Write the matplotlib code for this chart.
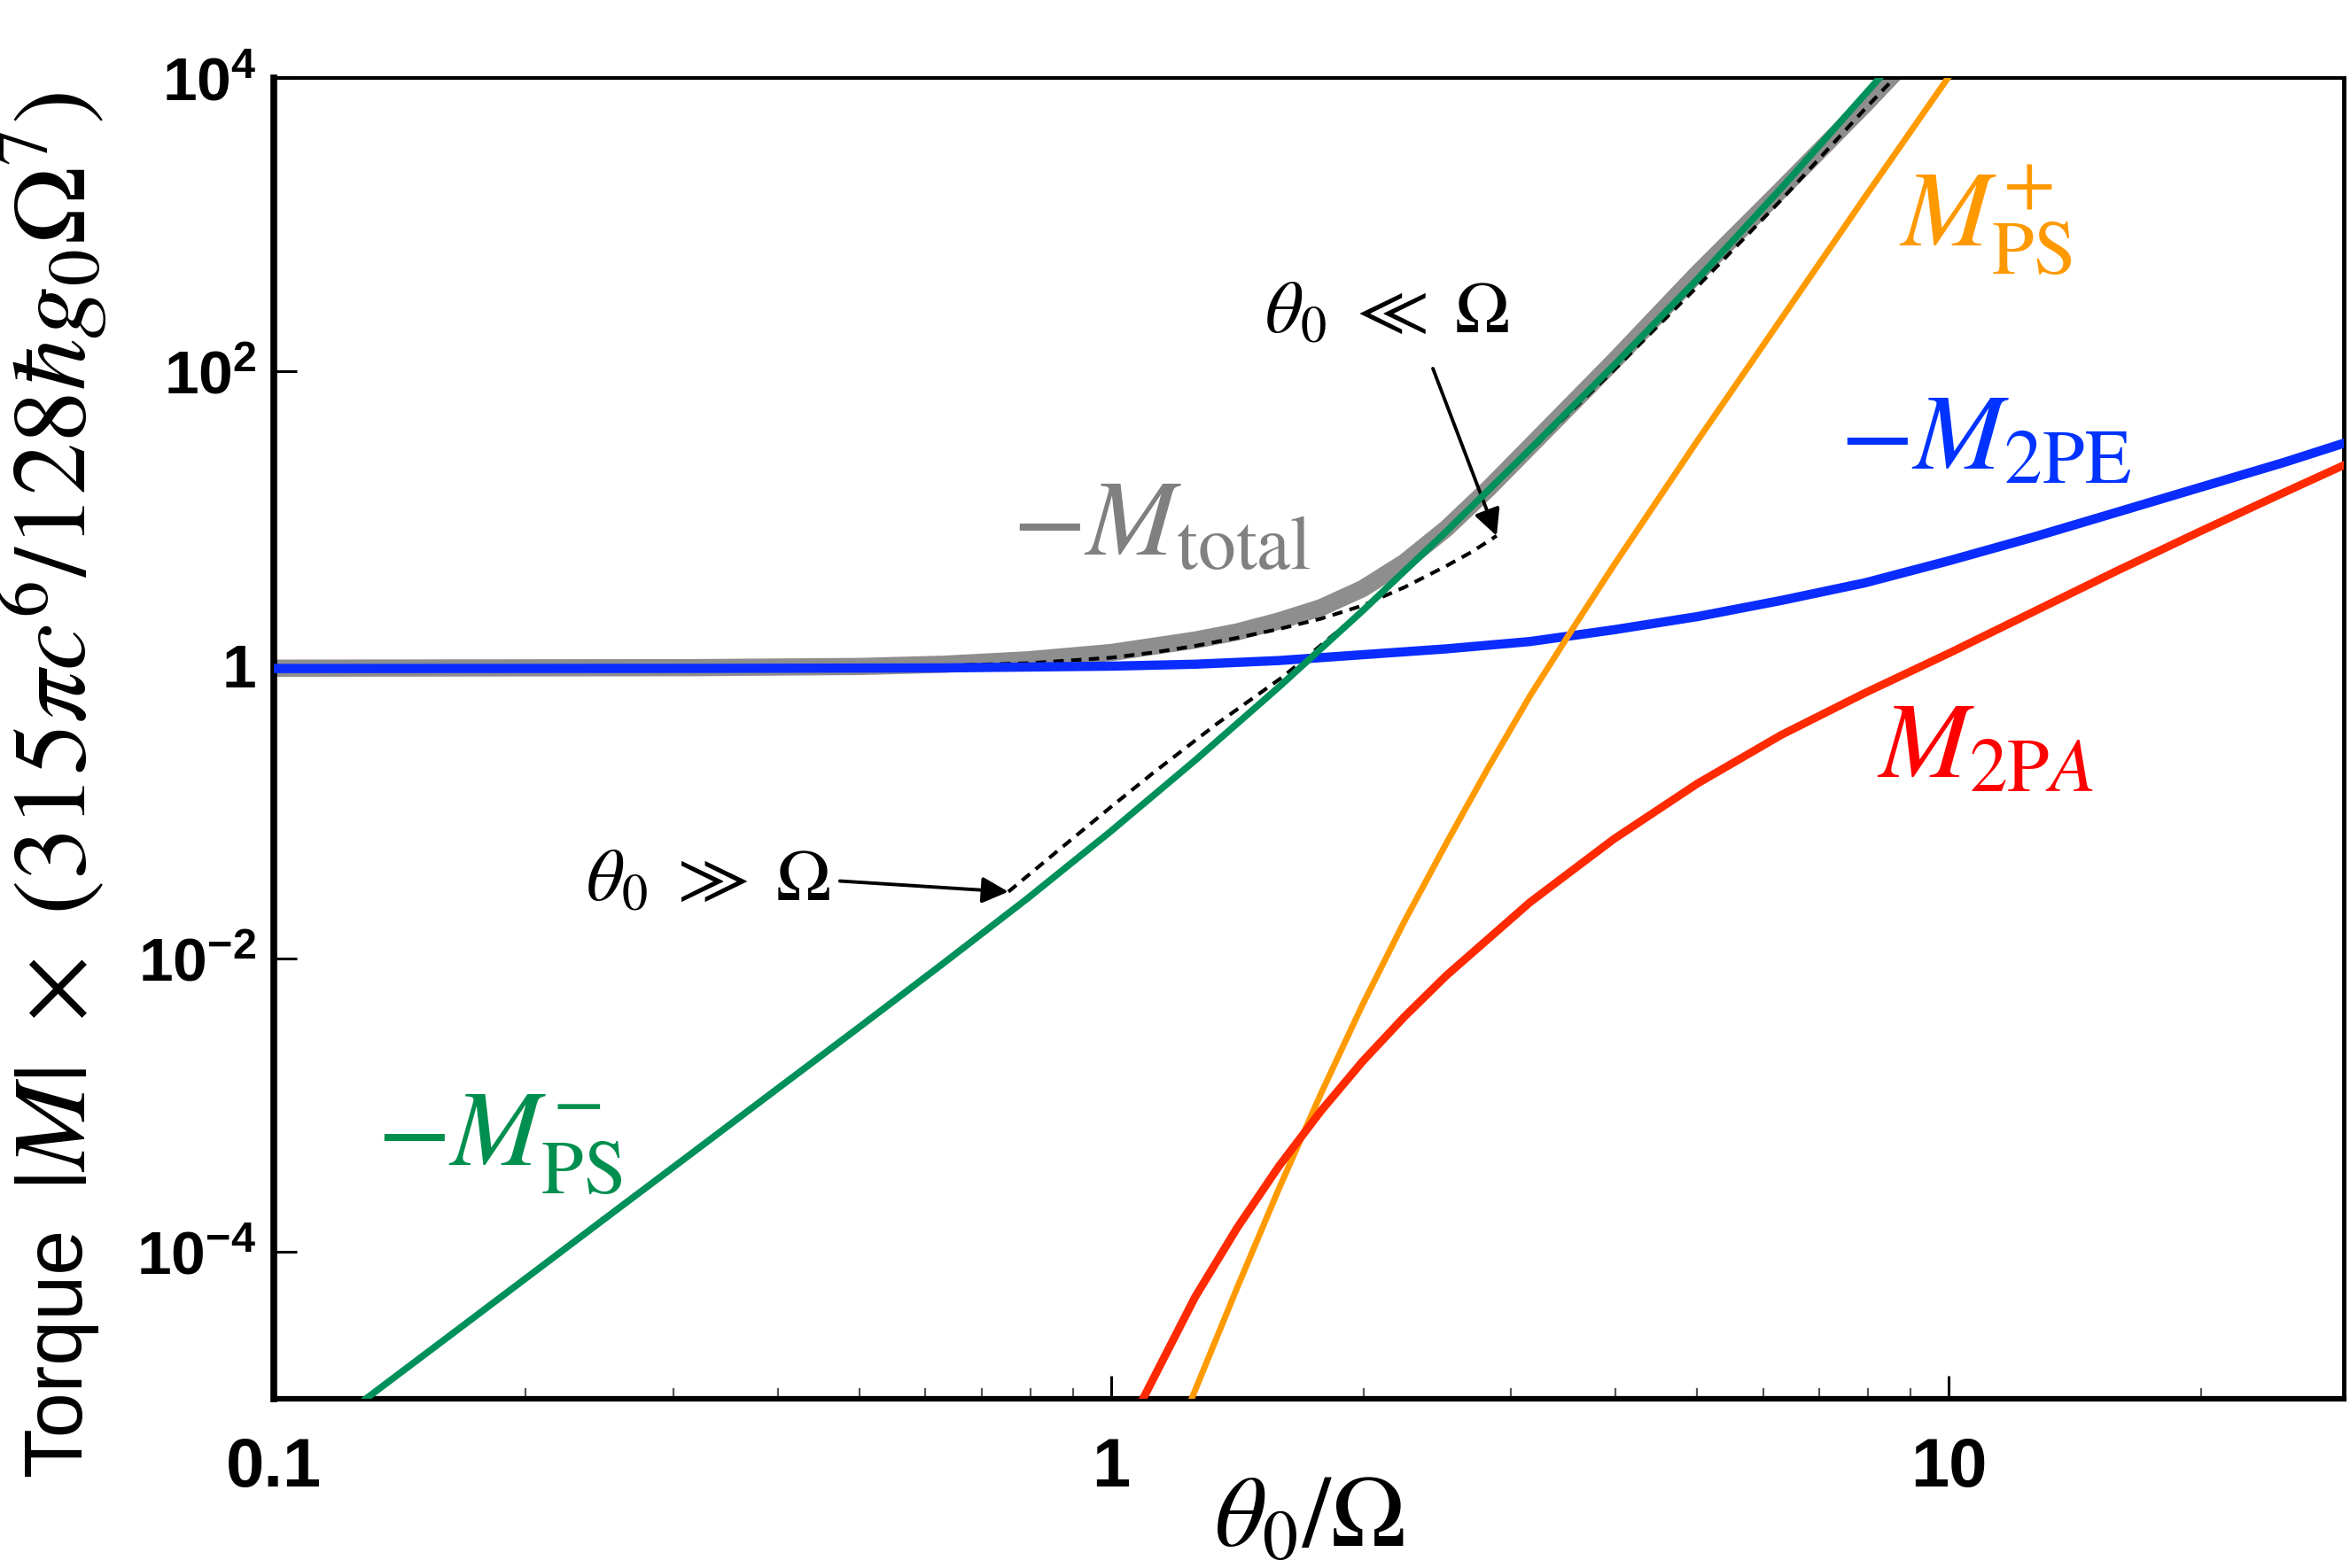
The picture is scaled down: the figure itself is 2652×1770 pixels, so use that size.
import matplotlib
matplotlib.use("Agg")
import matplotlib.pyplot as plt
from matplotlib import ticker, font_manager

plt.rcParams['mathtext.fontset'] = 'custom'
plt.rcParams['mathtext.rm'] = 'STIXGeneral'
plt.rcParams['mathtext.it'] = 'STIXGeneral:italic'
plt.rcParams['mathtext.bf'] = 'STIXGeneral:bold'
plt.rcParams['mathtext.sf'] = 'Liberation Sans:bold'
plt.rcParams['font.family'] = ['Liberation Sans', 'DejaVu Sans']

# -M_PS^- (green)
ps_minus_x = [0.1288, 0.1585, 0.1995, 0.2512, 0.3162, 0.3981, 0.5012, 0.6310, 0.7943,
              1.0, 1.259, 1.585, 1.995, 2.512, 3.162, 3.981, 5.012, 6.310, 7.943, 8.913]
ps_minus_y = [1.0e-5, 2.44e-5, 6.56e-5, 1.77e-4, 4.75e-4, 1.28e-3, 3.44e-3, 9.33e-3,
              2.57e-2, 7.41e-2, 0.224, 0.708, 2.34, 8.13, 29.5, 110, 427, 1778, 7762, 16218]

# -M_2PE (blue)
pe_x = [0.1, 0.3162, 0.6310, 1.0, 1.259, 1.585, 1.995, 2.512, 3.162, 3.981, 5.012,
        6.310, 7.943, 10.0, 12.59, 15.85, 19.95, 25.12, 29.58]
pe_y = [0.946, 0.948, 0.955, 0.982, 1.012, 1.072, 1.175, 1.288, 1.445, 1.738, 2.138,
        2.754, 3.631, 5.129, 7.413, 10.96, 16.22, 23.99, 32.36]

# M_PS^+ (orange)
ps_plus_x = [1.247, 1.413, 1.585, 1.778, 1.995, 2.239, 2.512, 2.818, 3.162, 3.548,
             3.981, 5.012, 6.310, 7.943, 10.0, 10.23]
ps_plus_y = [1.0e-5, 5.70e-5, 2.70e-4, 1.19e-3, 4.85e-3, 1.80e-2, 6.11e-2, 0.1995,
             0.617, 1.738, 4.786, 33.9, 229, 1549, 10233, 12303]

# M_2PA (red)
pa_x = [1.091, 1.259, 1.413, 1.585, 1.778, 1.995, 2.239, 2.512, 3.162, 3.981, 5.012,
        6.310, 7.943, 10.0, 12.59, 15.85, 19.95, 25.12, 29.58]
pa_y = [1.0e-5, 4.94e-5, 1.46e-4, 3.84e-4, 9.10e-4, 1.99e-3, 4.02e-3, 7.66e-3, 2.42e-2,
        6.52e-2, 0.156, 0.334, 0.646, 1.202, 2.291, 4.365, 8.128, 14.96, 22.91]

# -M_total (grey band)
total_x = [0.1, 0.3162, 0.5012, 0.6310, 0.7943, 1.0, 1.259, 1.413, 1.585, 1.778, 1.995,
           2.239, 2.512, 2.818, 3.162, 3.981, 5.012, 6.310, 7.943, 8.511, 9.120]
total_y = [0.951, 0.959, 0.977, 1.012, 1.084, 1.216, 1.479, 1.679, 1.995, 2.455, 3.311,
           5.012, 8.511, 15.85, 30.9, 117.5, 467.7, 1738, 6607, 10000, 15136]

# small-angle asymptote, theta0 << Omega (dashed)
lo_x = [0.1, 0.3162, 0.5012, 0.6310, 0.7943, 1.0, 1.122, 1.259, 1.413, 1.585, 1.778,
        1.995, 2.239, 2.512, 2.692, 2.884]
lo_y = [0.946, 0.951, 0.966, 0.989, 1.028, 1.122, 1.216, 1.349, 1.531, 1.758, 2.065,
        2.541, 3.388, 4.732, 5.888, 7.586]

# large-angle asymptote, theta0 >> Omega (dashed)
hi_x = [0.7534, 0.8913, 1.0, 1.122, 1.337, 1.603, 1.995, 2.512, 3.162, 3.981, 5.012,
        6.310, 7.943, 8.511, 9.120]
hi_y = [0.0285, 0.0631, 0.1084, 0.1841, 0.398, 0.832, 2.344, 8.128, 28.84, 102.3, 380.2,
        1479, 6166, 9333, 14454]

y_ticks = [1e-4, 1e-2, 1, 1e2, 1e4]
y_ticklabels = [r'$\mathsf{10^{-4}}$', r'$\mathsf{10^{-2}}$', '1',
                r'$\mathsf{10^{2}}$', r'$\mathsf{10^{4}}$']
x_ticks = [0.1, 1, 10]
x_ticklabels = ['0.1', '1', '10']

fig = plt.figure(figsize=(26.52, 17.70), dpi=100)
ax = fig.add_axes([0.1165, 0.1079, 0.8808, 0.8424])

dash = (0, (2.8, 2.0))
ax.plot(total_x, total_y, color='#8e8e8e', lw=14, solid_capstyle='butt', zorder=2)
ax.plot(lo_x, lo_y, color='k', lw=3, ls=dash, zorder=3)
ax.plot(hi_x, hi_y, color='k', lw=3, ls=dash, zorder=3)
ax.plot(pe_x, pe_y, color='#0a2cff', lw=7.5, zorder=4)
ax.plot(ps_minus_x, ps_minus_y, color='#00905a', lw=5.5, zorder=5)
ax.plot(ps_plus_x, ps_plus_y, color='#ff9a00', lw=5, zorder=5)
ax.plot(pa_x, pa_y, color='#ff2a00', lw=6.5, zorder=5)

ax.set_xscale('log')
ax.set_yscale('log')
ax.set_xlim(0.1, 29.6)
ax.set_ylim(1e-5, 1e4)

ax.set_yticks(y_ticks)
ax.set_yticklabels(y_ticklabels)
ax.set_xticks(x_ticks)
ax.set_xticklabels(x_ticklabels)
ax.yaxis.set_minor_locator(ticker.NullLocator())
ax.xaxis.set_minor_locator(ticker.LogLocator(base=10, subs=range(2, 10)))
ax.xaxis.set_minor_formatter(ticker.NullFormatter())

ax.tick_params(which='major', direction='in', length=19, width=2.2)
ax.tick_params(axis='y', which='major', labelsize=50, pad=14)
ax.tick_params(axis='x', which='major', labelsize=56, pad=30)
ax.tick_params(which='minor', direction='in', length=8.5, width=1.6, color='#555555')
for lab in ax.get_xticklabels() + ax.get_yticklabels():
    lab.set_fontweight('bold')

ax.spines['left'].set_linewidth(5.5)
ax.spines['bottom'].set_linewidth(4.5)
ax.spines['top'].set_linewidth(3)
ax.spines['right'].set_linewidth(3.5)

ax.set_xlabel(r'$\theta_0/\Omega$', fontsize=82)
ax.xaxis.set_label_coords(0.5, -0.056)

# y label: condensed "Torque" plus the unit expression, stacked along the left edge
names = {f.name for f in font_manager.fontManager.ttflist}
if 'Liberation Sans Narrow' in names:
    torque_font, torque_size = 'Liberation Sans Narrow', 82
else:
    torque_font, torque_size = 'Liberation Sans', 66
fig.text(0.0345, 0.0588, 'Torque', family=torque_font, fontsize=torque_size,
         rotation=90, rotation_mode='anchor', ha='left', va='baseline')
fig.text(0.0365, 0.2407, r'$|M|\ \times\ (315\pi c^6/128\hbar g_0\Omega^7)$', fontsize=85,
         rotation=90, rotation_mode='anchor', ha='left', va='baseline')

tsize = 88
ax.text(0.429, 0.6385, r'$-M_{\mathrm{total}}$', color='#808080', fontsize=tsize,
        ha='center', va='baseline', transform=ax.transAxes)
ax.text(0.827, 0.873, r'$M_{\mathrm{PS}}^{+}$', color='#ff9900', fontsize=tsize,
        ha='center', va='baseline', transform=ax.transAxes)
ax.text(0.827, 0.7036, r'$-M_{\mathrm{2PE}}$', color='#0033ff', fontsize=tsize,
        ha='center', va='baseline', transform=ax.transAxes)
ax.text(0.827, 0.470, r'$M_{\mathrm{2P}A}$', color='#ff0000', fontsize=tsize,
        ha='center', va='baseline', transform=ax.transAxes)
ax.text(0.109, 0.177, r'$-M_{\mathrm{PS}}^{-}$', color='#008f4f', fontsize=tsize,
        ha='center', va='baseline', transform=ax.transAxes)

arrow = dict(arrowstyle='-|>', lw=2.8, color='k', mutation_scale=45, shrinkA=0, shrinkB=0)
ax.text(0.538, 0.807, r'$\theta_0\ \ll\ \Omega$', fontsize=60, ha='center', va='baseline',
        transform=ax.transAxes)
ax.annotate('', xy=(lo_x[-1], lo_y[-1]), xycoords='data',
            xytext=(0.560, 0.780), textcoords='axes fraction', arrowprops=arrow)
ax.text(0.210, 0.377, r'$\theta_0\ \gg\ \Omega$', fontsize=60, ha='center', va='baseline',
        transform=ax.transAxes)
ax.annotate('', xy=(hi_x[0], hi_y[0]), xycoords='data',
            xytext=(0.2735, 0.392), textcoords='axes fraction', arrowprops=arrow)

fig.savefig('out.png', dpi=100)
